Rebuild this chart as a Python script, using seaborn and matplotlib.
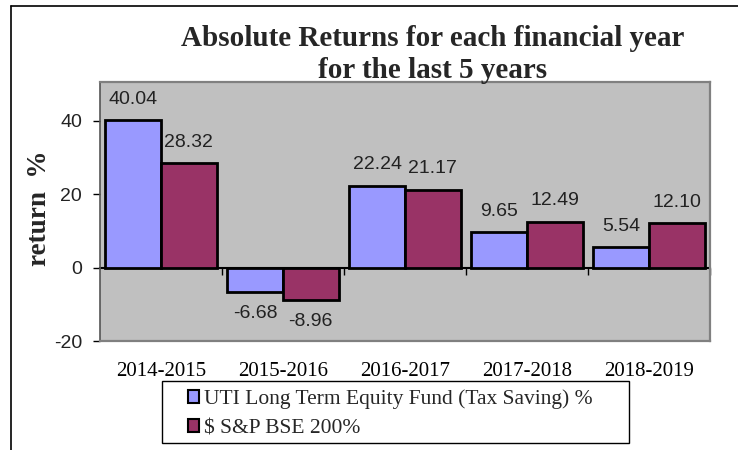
import matplotlib
matplotlib.use("Agg")
import matplotlib.pyplot as plt
import seaborn as sns
import pandas as pd
import numpy as np
from matplotlib.patches import Rectangle
from matplotlib.lines import Line2D

years = ["2014-2015", "2015-2016", "2016-2017", "2017-2018", "2018-2019"]
fund_name = "UTI Long Term Equity Fund (Tax Saving) %"
index_name = "$ S&P BSE 200%"
fund_values = [40.04, -6.68, 22.24, 9.65, 5.54]
index_values = [28.32, -8.96, 21.17, 12.49, 12.10]
y_ticks = [-20, 0, 20, 40]

df = pd.DataFrame({
    "year": years * 2,
    "value": fund_values + index_values,
    "series": [fund_name] * len(years) + [index_name] * len(years),
})

sns.set_theme(style="white")
plt.rcParams["font.family"] = ["Liberation Serif", "DejaVu Serif"]

fig = plt.figure(figsize=(7.38, 4.5), dpi=100)
ax = fig.add_axes([100 / 738, 1 - 341 / 450, 610 / 738, 259 / 450])

colors = ["#9999FF", "#993366"]
sns.barplot(data=df, x="year", y="value", hue="series", palette=colors,
            width=0.91, edgecolor="black", linewidth=2, ax=ax, legend=False,
            saturation=1)

ax.set_facecolor("#C0C0C0")
ax.set_ylim(-20, 50.5)
ax.set_xlim(-0.5, len(years) - 0.5)
ax.set_yticks(y_ticks)
ax.set_yticklabels([str(v) for v in y_ticks], family="Liberation Sans",
                   fontsize=14, color="#222222")
ax.tick_params(axis="y", direction="out", length=5, width=1, color="black",
               pad=8, left=True)
ax.tick_params(axis="x", length=0, pad=15, labelsize=15)
for lbl in ax.get_xticklabels():
    lbl.set_family("Liberation Serif")
    lbl.set_color("black")
ax.set_xlabel("")
ax.set_ylabel("")

for s in ax.spines.values():
    s.set_color("#808080")
    s.set_linewidth(1.6)
ax.spines["left"].set_color("#555555")
ax.spines["left"].set_linewidth(1.2)

# category axis at zero
sec = ax.secondary_xaxis(0, transform=ax.transData)
sec.set_xticks([])
sec.set_xticks(np.arange(1, len(years) + 1) - 0.5, minor=True)
sec.tick_params(which="minor", direction="out", length=5, width=1, color="black",
                labelbottom=False)
sec.spines["bottom"].set_color("black")
sec.spines["bottom"].set_linewidth(1.5)

for cont in ax.containers:
    ax.bar_label(cont, fmt="%.2f", padding=9, fontsize=14,
                 family="Liberation Sans", color="#222222")

# title
fig.text(433 / 738, 1 - 38 / 450, "Absolute Returns for each financial year",
         ha="center", va="center", fontsize=21, fontweight="bold",
         family="Liberation Serif")
fig.text(433 / 738, 1 - 71 / 450, "for the last 5 years",
         ha="center", va="center", fontsize=21, fontweight="bold",
         family="Liberation Serif")

# y label
fig.text(39 / 738, 1 - 208 / 450, "return  %", rotation=90, ha="center",
         va="center", fontsize=19.5, fontweight="bold", family="Liberation Serif")

# legend
handles = [Rectangle((0, 0), 1, 1, facecolor=c, edgecolor="black", linewidth=1.5)
           for c in colors]
leg = fig.legend(handles, [fund_name, index_name],
                 bbox_to_anchor=(188 / 738, 1 - 389 / 450),
                 loc="upper left", ncol=1,
                 prop={"family": "Liberation Serif", "size": 15.5},
                 frameon=False,
                 handlelength=0.5, handleheight=0.55, handletextpad=0.25,
                 borderpad=0.0, labelspacing=0.5, borderaxespad=0)
fig.add_artist(Rectangle((162 / 738, 1 - 443 / 450), 467 / 738, 62 / 450,
                         transform=fig.transFigure, facecolor="none",
                         edgecolor="black", linewidth=1.0))

# figure frame (top and left)
fig.add_artist(Line2D([11 / 738, 1], [1 - 6 / 450, 1 - 6 / 450],
                      transform=fig.transFigure, color="black", lw=1.2))
fig.add_artist(Line2D([11 / 738, 11 / 738], [0, 1 - 6 / 450],
                      transform=fig.transFigure, color="black", lw=1.2))

fig.savefig("out.png", dpi=100, facecolor="white")
